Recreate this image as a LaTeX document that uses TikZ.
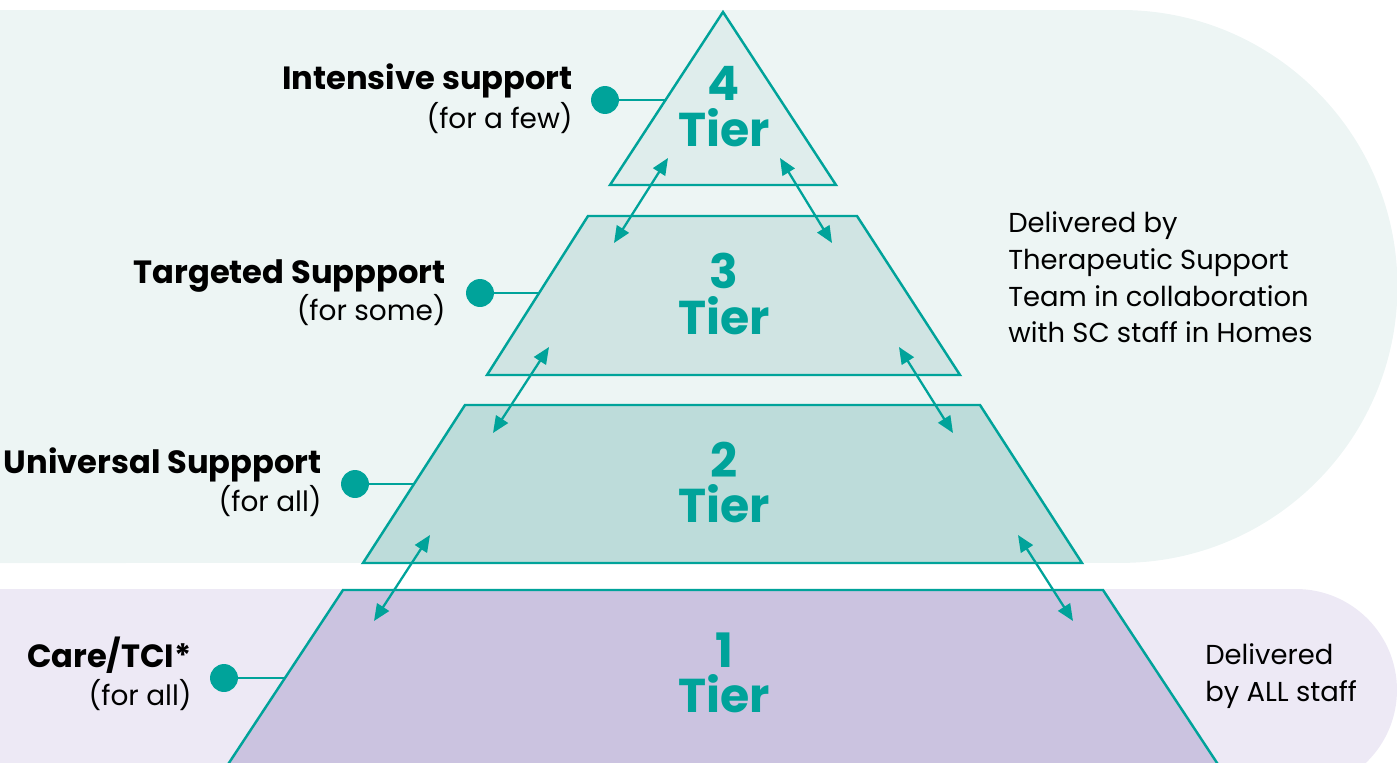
\documentclass[tikz,border=0pt]{standalone}
\usepackage{fontspec}
\setmainfont{Poppins}
\usetikzlibrary{arrows.meta, positioning}
\definecolor{tealline}{HTML}{00A39A}
\definecolor{bgteal}{HTML}{EDF5F4}
\definecolor{bglav}{HTML}{EDE9F5}
\definecolor{tierfour}{HTML}{DFEDEC}
\definecolor{tierthree}{HTML}{D0E4E3}
\definecolor{tiertwo}{HTML}{BDDCDA}
\definecolor{tierone}{HTML}{CBC3E0}
\tikzset{
    tier/.style={
        draw=tealline,
        line width=1.4pt,
        line join=miter,
    },
    tiernum/.style={
        font=\bfseries\fontsize{27}{27}\selectfont,
        text=tealline,
        inner sep=0pt,
        anchor=base,
    },
    dot/.style={
        circle,
        fill=tealline,
        minimum size=15.9pt,
        inner sep=0pt,
    },
    lead/.style={
        draw=tealline,
        line width=1.3pt,
    },
    xarrow/.style={
        draw=tealline,
        line width=1.3pt,
        {Triangle[length=9.5pt,width=8pt]}-{Triangle[length=9.5pt,width=8pt]},
    },
    head/.style={
        font=\bfseries\fontsize{18.3}{18.3}\selectfont,
        anchor=base east,
        inner sep=0pt,
    },
    sub/.style={
        font=\fontsize{15.9}{15.9}\selectfont,
        anchor=base east,
        inner sep=0pt,
    },
    note/.style={
        font=\fontsize{15.6}{21}\selectfont,
        align=left,
        anchor=base west,
        inner sep=0pt,
    },
}

\begin{document}
\begin{tikzpicture}[x=0.02cm, y=-0.02cm]
    \clip (0,0) rectangle (1397,762);

    % backgrounds
    \fill[bgteal] (0,10) -- (1121,10) arc[start angle=90, end angle=-90, radius=5.53cm] -- (0,563) -- cycle;
    \fill[bglav] (0,589) -- (1296,589) arc[start angle=90, end angle=-90, radius=2.02cm] -- (0,791) -- cycle;

    % tiers
    \draw[tier, fill=tierone] (221,775) -- (343,590) -- (1103,590) -- (1225,775);
    \draw[tier, fill=tiertwo] (363,563) -- (465,405) -- (980,405) -- (1082,563) -- cycle;
    \draw[tier, fill=tierthree] (487,375) -- (588,216) -- (857,216) -- (960,375) -- cycle;
    \draw[tier, fill=tierfour] (610,185) -- (723,12) -- (836,185) -- cycle;

    \node[tiernum] (n4) at (724,100) {4};
    \node[tiernum] (w4) at (724,146) {Tier};
    \node[tiernum] (n3) at (724,288) {3};
    \node[tiernum] (w3) at (724,334) {Tier};
    \node[tiernum] (n2) at (724,477) {2};
    \node[tiernum] (w2) at (724,522) {Tier};
    \node[tiernum] (n1) at (724,667) {1};
    \node[tiernum] (w1) at (724,712) {Tier};

    % labels
    \node[head] (lab4) at (573,89) {Intensive support};
    \node[sub] (sub4) at (573,128) {(for a few)};
    \node[head] (lab3) at (446,283) {Targeted Suppport};
    \node[sub] (sub3) at (446,320) {(for some)};
    \node[head] (lab2) at (322,473) {Universal Suppport};
    \node[sub] (sub2) at (322,511) {(for all)};
    \node[head] (lab1) at (192,667) {Care/TCI*};
    \node[sub] (sub1) at (192,705) {(for all)};

    \node[dot] (dot4) at (605,100) {};
    \node[dot] (dot3) at (480,293) {};
    \node[dot] (dot2) at (355,484) {};
    \node[dot] (dot1) at (224,678) {};
    \coordinate (e4) at (666,100);
    \coordinate (e3) at (540,293);
    \coordinate (e2) at (414,484);
    \coordinate (e1) at (285,678);
    \draw[lead] (dot4) -- (e4);
    \draw[lead] (dot3) -- (e3);
    \draw[lead] (dot2) -- (e2);
    \draw[lead] (dot1) -- (e1);

    % arrows between tiers
    \coordinate (a4l) at (668,158);
    \coordinate (b3l) at (614,243);
    \coordinate (a4r) at (780,158);
    \coordinate (b3r) at (832,243);
    \coordinate (a3l) at (549,347);
    \coordinate (b2l) at (493,433);
    \coordinate (a3r) at (899,347);
    \coordinate (b2r) at (953,433);
    \coordinate (a2l) at (430,535);
    \coordinate (b1l) at (374,621);
    \coordinate (a2r) at (1018,535);
    \coordinate (b1r) at (1073,621);
    \draw[xarrow] (a4l) -- (b3l);
    \draw[xarrow] (a4r) -- (b3r);
    \draw[xarrow] (a3l) -- (b2l);
    \draw[xarrow] (a3r) -- (b2r);
    \draw[xarrow] (a2l) -- (b1l);
    \draw[xarrow] (a2r) -- (b1r);

    % notes
    \node[note, anchor=north west] (noteup) at (1008,211) {Delivered by\\Therapeutic Support\\Team in collaboration\\with SC staff in Homes};
    \node[note, anchor=north west] (notedown) at (1205,643) {Delivered\\by ALL staff};
\end{tikzpicture}
\end{document}
